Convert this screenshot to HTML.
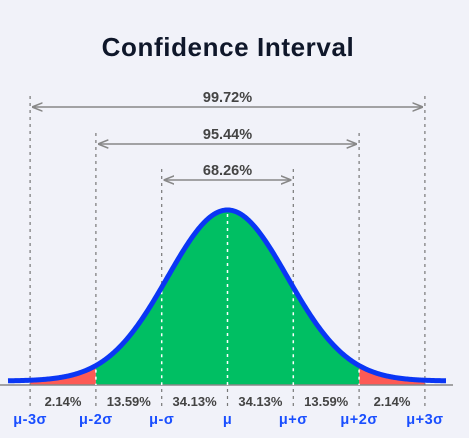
<!DOCTYPE html>
<html><head><meta charset="utf-8"><style>
html,body{margin:0;padding:0;background:#f1f2f9;}
svg{display:block;font-family:"Liberation Sans",sans-serif;}
</style></head><body>
<svg id="chart" width="469" height="438" viewBox="0 0 469 438">
<defs>
<marker id="ah" viewBox="0 0 10 10" refX="9" refY="5" markerWidth="7" markerHeight="7" orient="auto-start-reverse"><path d="M0,1 L10,5 L0,9" fill="none" stroke="#888" stroke-width="1.5"/></marker>
</defs>
<text x="228" y="56" text-anchor="middle" font-size="26" font-weight="bold" letter-spacing="0.6" fill="#0f172a">Confidence Interval</text>
<g id="g"></g>
</svg>
<script>
const sigmaLabels=["μ-3σ","μ-2σ","μ-σ","μ","μ+σ","μ+2σ","μ+3σ"];
const sigmaValues=[-3,-2,-1,0,1,2,3];
const bandPercents=["2.14%","13.59%","34.13%","34.13%","13.59%","2.14%"];
const intervalLabels=["68.26%","95.44%","99.72%"];
const intervalSigma=[1,2,3];
const NS="http://www.w3.org/2000/svg";
const g=document.getElementById('g');
const mu=227.5, sx=65.8, base=385, tail=381, peak=171, cs=60/65.8;
const X=z=>mu+z*sx;
const Y=z=>tail-peak*Math.exp(-(z/cs)*(z/cs)/2);
function mk(t,a){const e=document.createElementNS(NS,t);for(const k in a)e.setAttribute(k,a[k]);g.appendChild(e);return e;}
function area(z0,z1,col,name){let d=`M${X(z0)},${base}`;for(let z=z0;z<=z1+1e-9;z+=0.02)d+=` L${X(z).toFixed(2)},${Y(z).toFixed(2)}`;d+=` L${X(z1)},${base} Z`;const p=mk('path',{d,fill:col});

}
area(-3,-2,'#fd5a55','left-tail-area');
area(2,3,'#fd5a55','right-tail-area');
area(-2,2,'#00bf63','central-area');
const bl=mk('line',{x1:0,x2:453,y1:base,y2:base,stroke:'#888','stroke-width':1.5});


sigmaValues.forEach((s,i)=>{
  const a=Math.abs(s);const top=a===3?96:a===2?133:a===1?169:210;
  const x=X(s), yc=Y(s);
  if(s!==0){const l=mk('line',{x1:x,x2:x,y1:top,y2:yc,stroke:'#777','stroke-width':1.2,'stroke-dasharray':'3,4'});
  
  }
  if(a<=2){const w=mk('line',{x1:x,x2:x,y1:yc+4,y2:base,stroke:'#fff','stroke-width':1.5,'stroke-dasharray':'3,4'});
  
  }
  else{const l2=mk('line',{x1:x,x2:x,y1:yc+3,y2:base,stroke:'#777','stroke-width':1.2,'stroke-dasharray':'3,4'});
  
  }
  const b=mk('line',{x1:x,x2:x,y1:base+4,y2:base+22,stroke:'#777','stroke-width':1.2,'stroke-dasharray':'3,4'});
  
  
  const t=mk('text',{x:x,y:424,'text-anchor':'middle','font-size':14.5,'font-weight':'bold','letter-spacing':'0.5',fill:'#1a4fff'});t.textContent=sigmaLabels[i];
  
  
});
let d='';for(let x=8;x<=446;x+=1){const z=(x-mu)/sx;d+=(d?' L':'M')+x+','+Y(z).toFixed(2);}
const c=mk('path',{d,fill:'none',stroke:'#0a36f5','stroke-width':5,'stroke-linejoin':'round'});


bandPercents.forEach((p,i)=>{const t=mk('text',{x:(X(sigmaValues[i])+X(sigmaValues[i+1]))/2,y:406,'text-anchor':'middle','font-size':13,'font-weight':'bold',fill:'#444'});t.textContent=p;

});
const arrowY={1:180,2:144,3:107};
intervalSigma.forEach((s,i)=>{const y=arrowY[s];
 const l=mk('line',{x1:X(-s)+3,x2:X(s)-3,y1:y,y2:y,stroke:'#888','stroke-width':1.5,'marker-start':'url(#ah)','marker-end':'url(#ah)'});
 
 
 const t=mk('text',{x:mu,y:y-5,'text-anchor':'middle','font-size':14.5,'font-weight':'bold',fill:'#444'});t.textContent=intervalLabels[i];
 
 });
</script>
</body></html>
